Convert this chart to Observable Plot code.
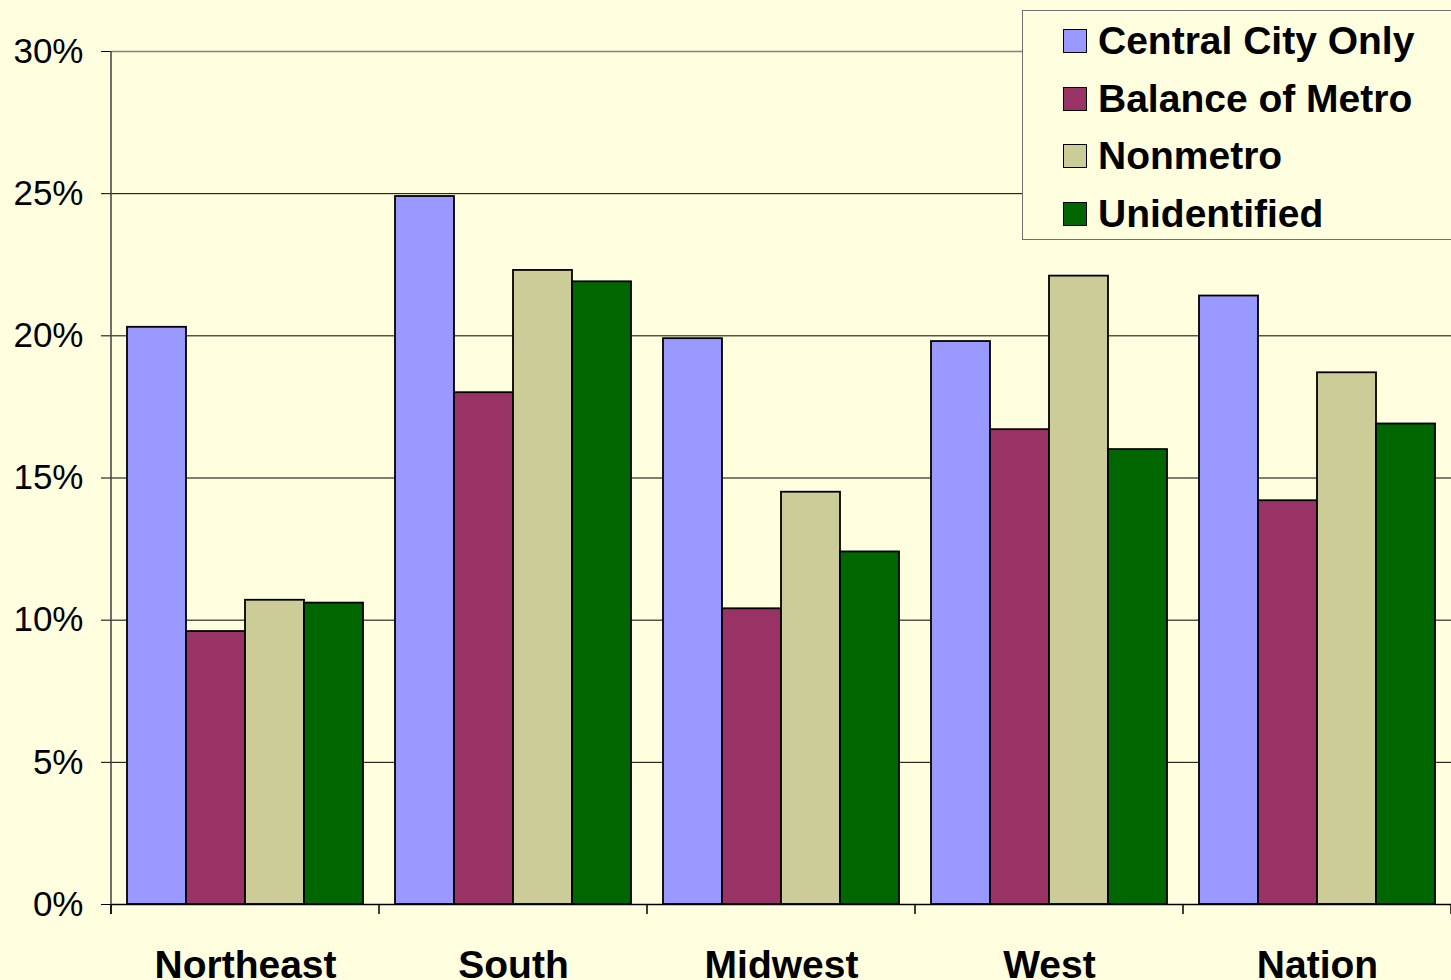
<!DOCTYPE html>
<html>
<head>
<meta charset="utf-8">
<script src="https://cdn.jsdelivr.net/npm/d3@7"></script>
<script src="https://cdn.jsdelivr.net/npm/@observablehq/plot@0.6"></script>
<style>
  html, body { margin: 0; padding: 0; background: #FFFFE0; overflow: hidden; }
  #wrap { position: relative; width: 1451px; height: 980px; font-family: "Liberation Sans", Arial, sans-serif; }
  #legend { position: absolute; left: 1022px; top: 10px; width: 460px; height: 230px; border: 1px solid #707070; background: #FFFFE0; box-sizing: border-box; }
  .item { position: absolute; left: 40px; display: flex; align-items: center; font-weight: bold; font-size: 39px; color: #000; white-space: nowrap; }
  .sw { width: 22px; height: 22px; border: 1.5px solid #000; margin-right: 11px; }
</style>
</head>
<body>
<div id="wrap"></div>
<script>
const regions = ["Northeast", "South", "Midwest", "West", "Nation"];
const series = ["Central City Only", "Balance of Metro", "Nonmetro", "Unidentified"];
const centralCity = [20.3, 24.9, 19.9, 19.8, 21.4];
const balanceMetro = [9.6, 18.0, 10.4, 16.7, 14.2];
const nonmetro = [10.7, 22.3, 14.5, 22.1, 18.7];
const unidentified = [10.6, 21.9, 12.4, 16.0, 16.9];
const colors = ["#9999FF", "#993366", "#CCCC99", "#006600"];
const yTicks = [0, 5, 10, 15, 20, 25, 30];

const seriesValues = [centralCity, balanceMetro, nonmetro, unidentified];
const data = [];
regions.forEach((r, i) => series.forEach((s, j) => data.push({region: r, series: s, value: seriesValues[j][i]})));

const font = '"Liberation Sans", Arial, sans-serif';
const chart = Plot.plot({
  width: 1451,
  height: 980,
  marginTop: 51,
  marginBottom: 76,
  marginLeft: 111,
  marginRight: 0,
  style: {background: "#FFFFE0", color: "#000", fontFamily: font},
  fx: {domain: regions, padding: 0, label: null},
  x: {domain: series, paddingInner: 0, paddingOuter: 0.252, axis: null},
  y: {domain: [0, 30], ticks: yTicks, label: null},
  color: {domain: series, range: colors},
  marks: [
    Plot.ruleY(yTicks.filter(t => t > 0 && t < 30), {stroke: "#000", strokeWidth: 1}),
    Plot.ruleY([30], {stroke: "#808080", strokeWidth: 1.5}),
    Plot.barY(data, {fx: "region", x: "series", y: "value", fill: "series", stroke: "#000", strokeWidth: 1.8, inset: 0}),
    Plot.ruleY([0], {stroke: "#000", strokeWidth: 1.5}),
    Plot.axisY({ticks: yTicks, tickFormat: d => d + "%", tickSize: 10, tickPadding: 18, fontSize: 35, label: null}),
    Plot.axisFx({anchor: "bottom", tickSize: 0, tickPadding: 46, fontSize: 39, fontWeight: "bold", label: null})
  ]
});

// left axis line and group boundary ticks from the library's scales
const fx = chart.scale("fx");
const y = chart.scale("y");
const svg = d3.select(chart);
const y0 = y.apply(0), y30 = y.apply(30);
svg.append("line").attr("x1", 111).attr("x2", 111).attr("y1", y30).attr("y2", y0 + 10)
  .attr("stroke", "#404040").attr("stroke-width", 1.5);
const bounds = regions.map(r => fx.apply(r)).concat([fx.apply(regions[regions.length - 1]) + fx.bandwidth]);
bounds.forEach(b => {
  svg.append("line").attr("x1", b).attr("x2", b).attr("y1", y0).attr("y2", y0 + 10)
    .attr("stroke", "#000").attr("stroke-width", 1.5);
});

const wrap = document.getElementById("wrap");
wrap.appendChild(chart);

const legend = document.createElement("div");
legend.id = "legend";
series.forEach((s, i) => {
  const item = document.createElement("div");
  item.className = "item";
  item.style.top = (31 + i * 57.5 - 23) + "px";
  const sw = document.createElement("div");
  sw.className = "sw";
  sw.style.background = colors[i];
  item.appendChild(sw);
  const t = document.createElement("span");
  t.textContent = s;
  item.appendChild(t);
  legend.appendChild(item);
});
wrap.appendChild(legend);
</script>
</body>
</html>
